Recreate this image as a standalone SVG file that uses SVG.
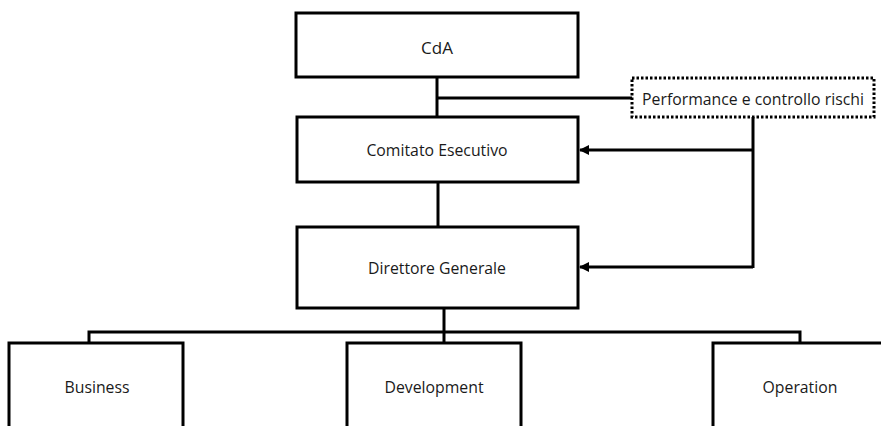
<svg xmlns="http://www.w3.org/2000/svg" width="881" height="426" viewBox="0 0 881 426">
  <style>
    .box { fill: #ffffff; stroke: #000000; stroke-width: 3; }
    .dotted { fill: #ffffff; stroke: #000000; stroke-width: 3; stroke-dasharray: 2.5 2; }
    .link { fill: none; stroke: #000000; stroke-width: 3; }
    .label { font-family: "Open Sans", "Liberation Sans", sans-serif; font-size: 15.8px; fill: #1a1a1a; text-anchor: middle; dominant-baseline: central; }
  </style>
  <defs>
    <marker id="arrow" viewBox="0 0 10 10" refX="9" refY="5" markerWidth="10" markerHeight="10" markerUnits="userSpaceOnUse" orient="auto">
      <path d="M0,0 L10,5 L0,10 Z" fill="#000000"/>
    </marker>
  </defs>

  <rect width="881" height="426" fill="#ffffff"/>

  <!-- connectors -->
  <g id="connectors">
    <path class="link" d="M437,77 V117"/>
    <path class="link" d="M437,98 H632"/>
    <path class="link" d="M438,182 V227"/>
    <path class="link" d="M753,117 V268"/>
    <path class="link" d="M753,150 H580" marker-end="url(#arrow)"/>
    <path class="link" d="M753,267 H580" marker-end="url(#arrow)"/>
    <path class="link" d="M444,308 V343"/>
    <path class="link" d="M89,343 V332 H800 V343"/>
  </g>

  <g id="cda">
    <rect class="box" x="296" y="13" width="282" height="64"/>
    <text class="label" x="437" y="47" style="font-size:17px">CdA</text>
  </g>

  <g id="performance">
    <rect class="dotted" x="632" y="78" width="242" height="39"/>
    <text class="label" x="753" y="99">Performance e controllo rischi</text>
  </g>

  <g id="comitato">
    <rect class="box" x="297" y="117" width="281" height="65"/>
    <text class="label" x="437" y="150">Comitato Esecutivo</text>
  </g>

  <g id="direttore">
    <rect class="box" x="297" y="227" width="281" height="81"/>
    <text class="label" x="437" y="268">Direttore Generale</text>
  </g>

  <g id="business">
    <rect class="box" x="9" y="343" width="174" height="100"/>
    <text class="label" x="97" y="387">Business</text>
  </g>

  <g id="development">
    <rect class="box" x="347" y="343" width="174" height="100"/>
    <text class="label" x="434" y="387">Development</text>
  </g>

  <g id="operation">
    <rect class="box" x="713" y="343" width="180" height="100"/>
    <text class="label" x="800" y="387">Operation</text>
  </g>
</svg>
